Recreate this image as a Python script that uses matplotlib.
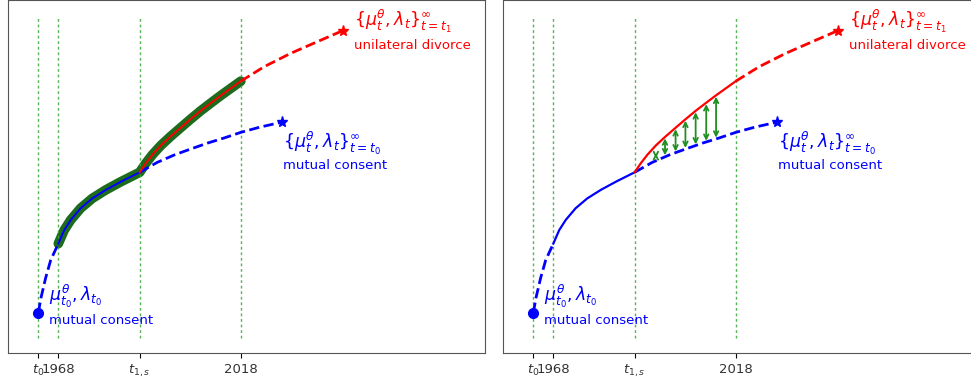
import matplotlib
matplotlib.use("Agg")
import matplotlib.pyplot as plt

# x in years, y in arbitrary units
t0, t1968, t1s, t2018 = 1962.5, 1968.0, 1990.3, 2018.0
tick_pos = [t0, t1968, t1s, t2018]
tick_lab = ['$t_0$', '1968', '$t_{1,s}$', '2018']

# mutual consent path
blue_x = [1962.5, 1963.3, 1964.5, 1965.9, 1968.0, 1969.6, 1971.4, 1974.1, 1977.3, 1981.0,
          1985.1, 1990.3, 1995.1, 2000.0, 2004.3, 2009.0, 2013.4, 2018.0, 2023.3, 2029.3]
blue_y = [1.14, 1.59, 2.12, 2.63, 3.10, 3.48, 3.77, 4.10, 4.38, 4.62,
          4.85, 5.12, 5.40, 5.62, 5.78, 5.95, 6.09, 6.25, 6.40, 6.54]
# unilateral divorce path
red_x = [1990.3, 1992.0, 1993.8, 1996.1, 1998.6, 2001.5, 2004.2, 2007.0, 2009.9, 2012.6,
         2015.3, 2018.0, 2024.4, 2031.7, 2039.0, 2045.9]
red_y = [5.12, 5.38, 5.62, 5.88, 6.12, 6.38, 6.62, 6.86, 7.09, 7.30,
         7.50, 7.70, 8.11, 8.49, 8.82, 9.13]

# gap arrows (right panel)
arr_x = [1996.1, 1998.6, 2001.5, 2004.2, 2007.0, 2009.9, 2012.6]
arr_top = [5.66, 6.08, 6.34, 6.58, 6.82, 7.05, 7.26]
arr_bot = [5.52, 5.60, 5.71, 5.81, 5.91, 6.01, 6.10]

i68 = blue_x.index(t1968)
i1s = blue_x.index(t1s)
r18 = red_x.index(t2018)

fig = plt.figure(figsize=(9.71, 3.85), dpi=100)
ax1 = fig.add_axes([8/971, 32/385, 476.5/971, 353/385])
ax2 = fig.add_axes([503/971, 32/385, 476.5/971, 353/385])


def base(ax, solid_lw):
    ax.vlines(tick_pos, 0.42, 9.55, colors='#3aa63a', linestyles=(0, (2, 2)), lw=1.0, alpha=0.85)
    # dashed pieces
    ax.plot(blue_x[:i68 + 1], blue_y[:i68 + 1], '--', color='blue', lw=2)
    ax.plot(blue_x[i1s:], blue_y[i1s:], '--', color='blue', lw=2)
    ax.plot(red_x[r18:], red_y[r18:], '--', color='red', lw=2)
    ax.plot(blue_x[0], blue_y[0], 'o', color='blue', ms=7)
    ax.plot(blue_x[-1], blue_y[-1], '*', color='blue', ms=8)
    ax.plot(red_x[-1], red_y[-1], '*', color='red', ms=8)
    ax.plot(blue_x[i68:i1s + 1], blue_y[i68:i1s + 1], color='blue', lw=solid_lw)
    ax.plot(red_x[:r18 + 1], red_y[:r18 + 1], color='red', lw=solid_lw)

    ax.text(1965.4, 1.62, r'$\mu^{\theta}_{t_0}, \lambda_{t_0}$', color='blue', fontsize=12.5, va='center')
    ax.text(1965.4, 0.91, 'mutual consent', color='blue', fontsize=9.5, va='center')
    ax.text(2029.6, 5.95, r'$\{\mu^{\theta}_{t}, \lambda_{t}\}_{t=t_0}^{\infty}$', color='blue',
            fontsize=12.5, va='center')
    ax.text(2029.6, 5.30, 'mutual consent', color='blue', fontsize=9.5, va='center')
    ax.text(2049.0, 9.40, r'$\{\mu^{\theta}_{t}, \lambda_{t}\}_{t=t_1}^{\infty}$', color='red',
            fontsize=12.5, va='center')
    ax.text(2049.0, 8.70, 'unilateral divorce', color='red', fontsize=9.5, va='center')

    ax.set_xlim(1954.2, 2084.8)
    ax.set_ylim(0, 10)
    ax.set_yticks([])
    ax.set_xticks(tick_pos)
    ax.set_xticklabels(tick_lab, fontsize=9.5, color='#333333')
    for s in ax.spines.values():
        s.set_color('#555555')


# left panel: green highlight over observed period
ax1.plot(blue_x[i68:i1s + 1] + red_x[1:r18 + 1], blue_y[i68:i1s + 1] + red_y[1:r18 + 1],
         color='#1d6b1d', lw=7, solid_capstyle='round', solid_joinstyle='round', zorder=1)
base(ax1, 1.4)

# right panel: gap between the two regimes
base(ax2, 1.6)
for x, y0, y1 in zip(arr_x, arr_bot, arr_top):
    ax2.annotate('', xy=(x, y1), xytext=(x, y0),
                 arrowprops=dict(arrowstyle='<->', color='#1f8f1f', lw=1.3,
                                 shrinkA=0, shrinkB=0, mutation_scale=8))

plt.savefig('out.png', dpi=100)
